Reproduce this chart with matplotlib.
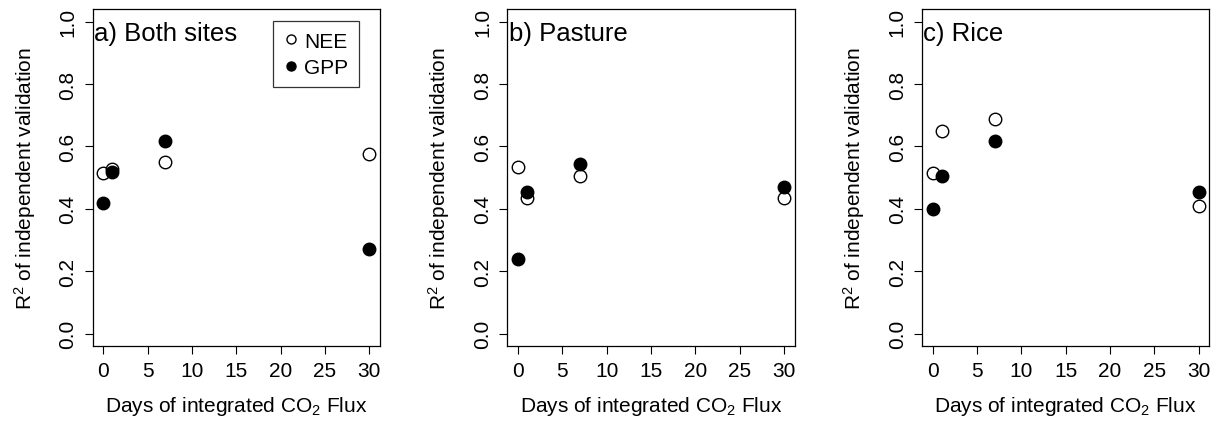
import matplotlib
matplotlib.use("Agg")
import matplotlib.pyplot as plt
from matplotlib.lines import Line2D

plt.rcParams["font.family"] = ["Liberation Sans", "DejaVu Sans"]
plt.rcParams["mathtext.fontset"] = "custom"
plt.rcParams["mathtext.rm"] = "Liberation Sans"
plt.rcParams["mathtext.it"] = "Liberation Sans:italic"

days = [0, 1, 7, 30]
panel_titles = ["a) Both sites", "b) Pasture", "c) Rice"]
nee = [
    [0.514, 0.527, 0.549, 0.574],
    [0.533, 0.435, 0.506, 0.435],
    [0.514, 0.648, 0.688, 0.410],
]
gpp = [
    [0.419, 0.519, 0.616, 0.270],
    [0.240, 0.453, 0.544, 0.471],
    [0.400, 0.506, 0.616, 0.453],
]

fig = plt.figure(figsize=(12.18, 4.27), dpi=100)
lefts = [0.0761, 0.4165, 0.757]
for i, left in enumerate(lefts):
    ax = fig.add_axes([left, 0.1874, 0.2359, 0.789])
    ax.plot(days, nee[i], "o", ms=9, mfc="white", mec="black", mew=1.0, zorder=3)
    ax.plot(days, gpp[i], "o", ms=9, mfc="black", mec="black", mew=1.0, zorder=3)
    ax.set_xlim(-1.2, 31.2)
    ax.set_ylim(-0.04, 1.04)
    ax.set_xticks([0, 5, 10, 15, 20, 25, 30])
    ax.set_yticks([0.0, 0.2, 0.4, 0.6, 0.8, 1.0])
    ax.set_yticklabels(["0.0", "0.2", "0.4", "0.6", "0.8", "1.0"],
                       rotation=90, va="center")
    ax.tick_params(direction="out", length=6, width=0.8, labelsize=15, pad=5)
    for s in ax.spines.values():
        s.set_linewidth(0.9)
    ax.set_xlabel("Days of integrated CO$_2$ Flux", fontsize=15, labelpad=10)
    ax.set_ylabel("R$^2$ of independent validation", fontsize=15, labelpad=15)
    ax.text(0.005, 0.965, panel_titles[i], transform=ax.transAxes,
            fontsize=18.5, ha="left", va="top")
    if i == 0:
        handles = [
            Line2D([], [], ls="none", marker="o", ms=6.5, mfc="white", mec="black", mew=1.0),
            Line2D([], [], ls="none", marker="o", ms=6.5, mfc="black", mec="black", mew=1.0),
        ]
        leg = ax.legend(handles, ["NEE", "GPP"], loc="upper right",
                        bbox_to_anchor=(0.927, 0.964), borderaxespad=0,
                        fontsize=15, frameon=True, fancybox=False,
                        edgecolor="black", handlelength=0.75,
                        handletextpad=0.25, borderpad=0.5, labelspacing=0.35)
        leg.get_frame().set_linewidth(0.9)

fig.savefig("out.png", dpi=100)
